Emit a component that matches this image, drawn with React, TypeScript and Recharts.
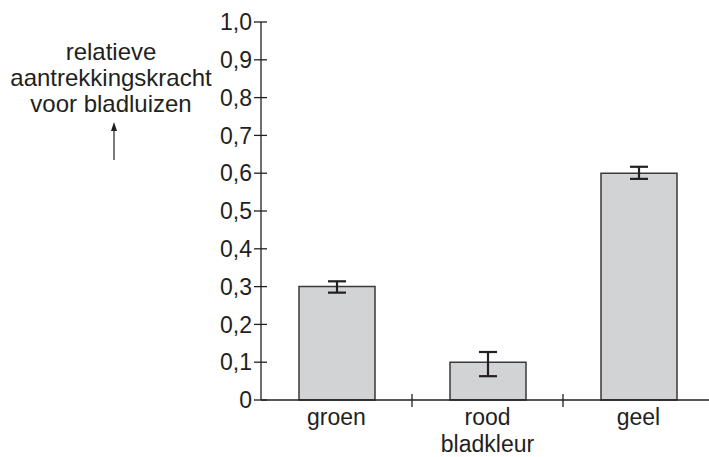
import { BarChart, Bar, XAxis, YAxis, ErrorBar, Label } from 'recharts';

const categories = ['groen', 'rood', 'geel'];
const values = [0.3, 0.1, 0.6];
// [omlaag, omhoog]
const errors: [number, number][] = [
  [0.016, 0.014],
  [0.037, 0.027],
  [0.015, 0.017],
];
const yTicks = [0, 0.1, 0.2, 0.3, 0.4, 0.5, 0.6, 0.7, 0.8, 0.9, 1.0];
const yLabelLines = ['relatieve', 'aantrekkingskracht', 'voor bladluizen'];
const xLabel = 'bladkleur';

const data = categories.map((name, i) => ({ name, value: values[i], err: errors[i] }));

const ink = '#231f20';
const font = '"Liberation Sans", Arial, sans-serif';
const fs = 23;

const fmt = (v: number) => (v === 0 ? '0' : v.toFixed(1).replace('.', ','));

const YTick = (props: any) => {
  const { x, y, payload } = props;
  return (
    <g>
      <line x1={x - 7} x2={x + 6} y1={y} y2={y} stroke={ink} strokeWidth={1.3} />
      <text x={x - 9} y={y} dy="0.36em" textAnchor="end" fill={ink} fontSize={fs} fontFamily={font}>
        {fmt(payload.value)}
      </text>
    </g>
  );
};

const XTick = (props: any) => {
  const { x, y, payload, index } = props;
  const sep = x + payload.offset;
  return (
    <g>
      {index < categories.length - 1 && (
        <line x1={sep} x2={sep} y1={y - 6} y2={y + 7} stroke={ink} strokeWidth={1.3} />
      )}
      <text x={x} y={y + 25} textAnchor="middle" fill={ink} fontSize={fs} fontFamily={font}>
        {payload.value}
      </text>
    </g>
  );
};

const YLabel = () => (
  <g>
    {yLabelLines.map((t, i) => (
      <text key={t} x={111} y={60 + i * 26} textAnchor="middle" fill={ink} fontSize={24} fontFamily={font}>
        {t}
      </text>
    ))}
    <line x1={114} x2={114} y1={160} y2={128} stroke={ink} strokeWidth={1.2} />
    <path d="M114,122 L111,131 L117,131 Z" fill={ink} />
  </g>
);

const XLabel = (props: any) => {
  const { x, y, width } = props.viewBox;
  return (
    <text x={x + width / 2} y={y + 52} textAnchor="middle" fill={ink} fontSize={fs} fontFamily={font}>
      {xLabel}
    </text>
  );
};

export default function App() {
  return (
    <div style={{ position: 'absolute', left: 0, top: 0, width: 709, height: 457, overflow: 'hidden', background: '#fff' }}>
      <BarChart width={720} height={457} data={data} margin={{ top: 22, right: 6, left: 0, bottom: 0 }}>
        <XAxis
          dataKey="name"
          height={57}
          stroke={ink}
          axisLine={{ stroke: ink, strokeWidth: 1.3 }}
          tickLine={false}
          tickSize={0}
          tickMargin={0}
          tick={<XTick />}
          interval={0}
        >
          <Label content={<XLabel />} />
        </XAxis>
        <YAxis
          width={261}
          domain={[0, 1]}
          ticks={yTicks}
          interval={0}
          axisLine={{ stroke: ink, strokeWidth: 1.3 }}
          tickLine={false}
          tickSize={0}
          tickMargin={0}
          tick={<YTick />}
        >
          <Label content={<YLabel />} />
        </YAxis>
        <Bar dataKey="value" fill="#d1d3d4" stroke="#3a3a3a" strokeWidth={1.5} barSize={76} isAnimationActive={false}>
          <ErrorBar dataKey="err" width={9} stroke={ink} strokeWidth={2.2} />
        </Bar>
      </BarChart>
    </div>
  );
}
